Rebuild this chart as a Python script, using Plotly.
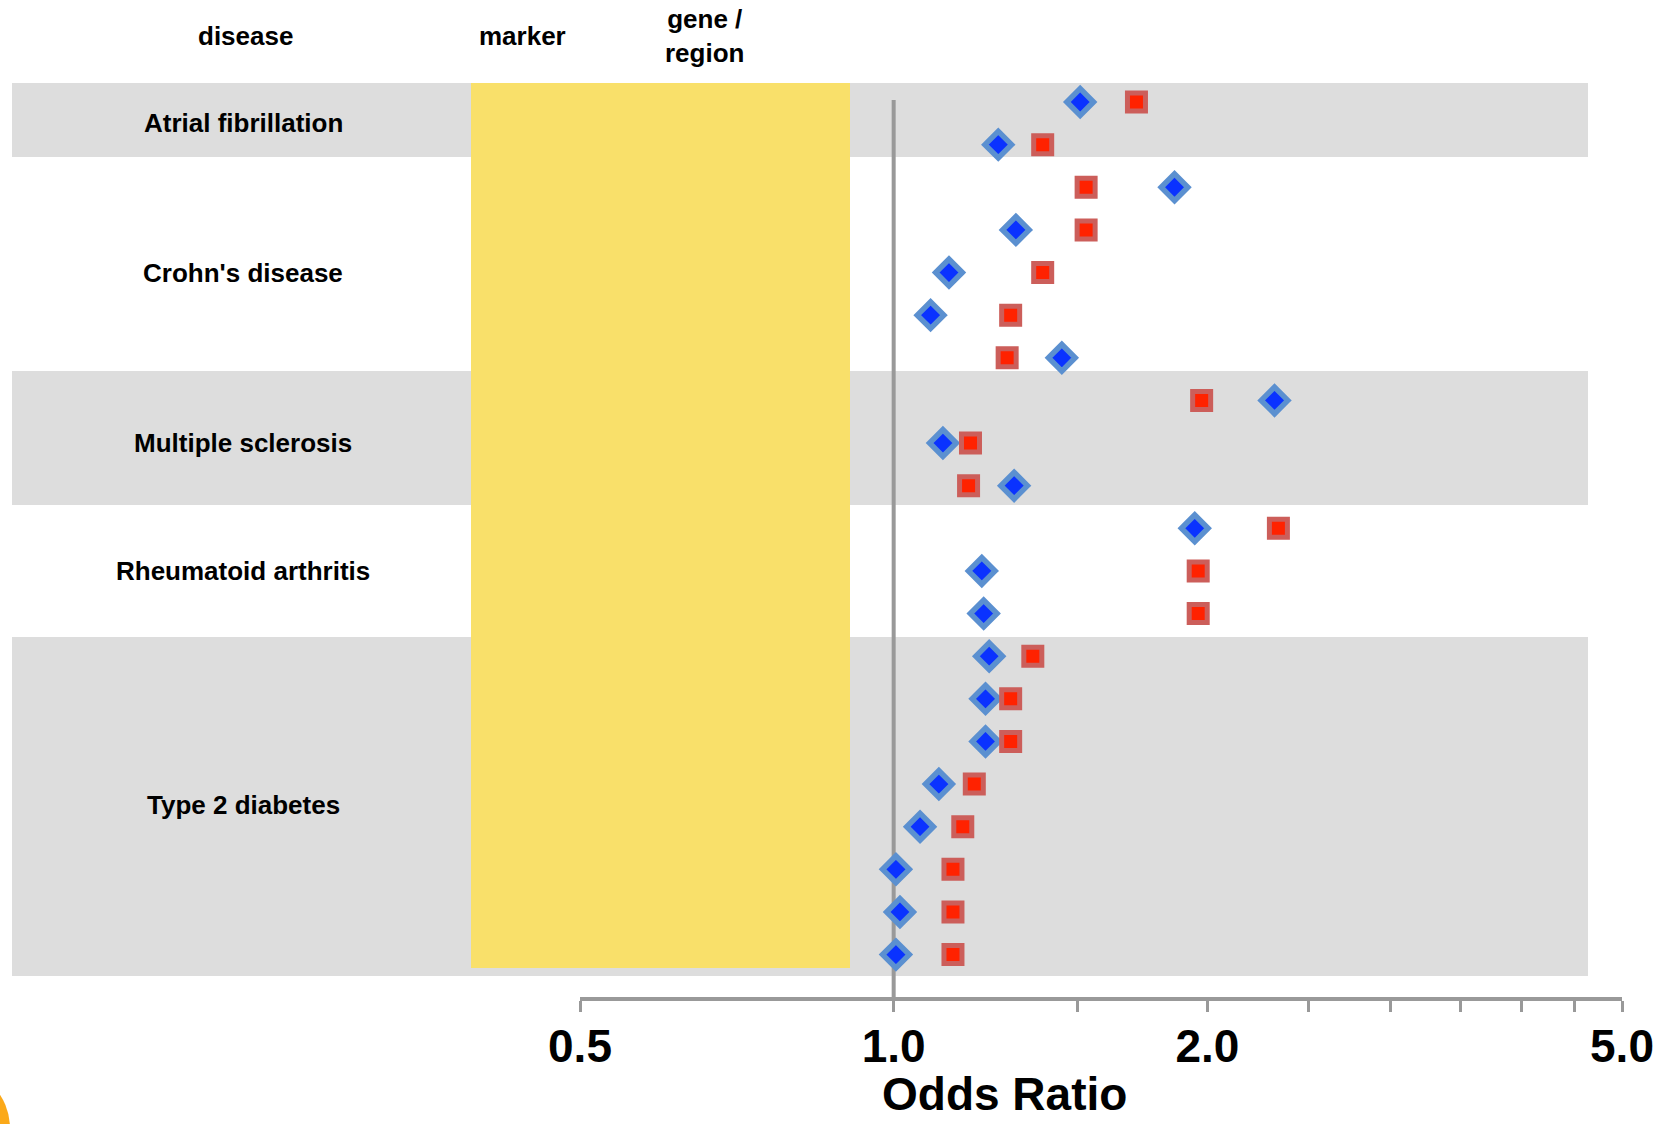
import math
import plotly.graph_objects as go

# ---------------- data ----------------
diseases = ["Atrial fibrillation", "Crohn's disease", "Multiple sclerosis",
            "Rheumatoid arthritis", "Type 2 diabetes"]
markers_per_disease = [2, 5, 3, 3, 8]

# odds ratios, one value per marker row (top to bottom)
or_blue = [1.51, 1.26,
           1.86, 1.31, 1.13, 1.085, 1.45,
           2.32, 1.115, 1.305,
           1.945, 1.215, 1.22,
           1.235, 1.225, 1.225, 1.105, 1.06, 1.005, 1.014, 1.005]
or_red = [1.71, 1.39,
          1.53, 1.53, 1.39, 1.295, 1.285,
          1.975, 1.185, 1.18,
          2.34, 1.96, 1.96,
          1.36, 1.295, 1.295, 1.195, 1.165, 1.14, 1.14, 1.14]

tick_vals = [0.5, 1.0, 1.5, 2.0, 2.5, 3.0, 3.5, 4.0, 4.5, 5.0]
tick_text = ["0.5", "1.0", "", "2.0", "", "", "", "", "", "5.0"]

headers = ["disease", "marker", "gene /<br>region"]

# ---------------- layout helpers ----------------
W, H = 1667, 1124
FONT = "Liberation Sans, Arial, sans-serif"
row_top_px = 102.0
row_step_px = 42.63


def px_to_row(py):
    return (py - row_top_px) / row_step_px


def px_x(p):
    return p / W


def px_y(p):
    return 1 - p / H


rows = list(range(len(or_blue)))

# band edges in row units (group boundaries)
band_edges = [px_to_row(p) for p in (83, 157, 371, 505, 637, 976)]

# label centres: middle row of each disease group
label_rows = []
start = 0
for n in markers_per_disease:
    label_rows.append(start + (n - 1) / 2)
    start += n

fig = go.Figure()

fig.add_trace(go.Scatter(
    x=or_blue, y=rows, mode="markers", name="blue",
    marker=dict(symbol="diamond", size=20.5, color="#0a32ff",
                line=dict(color="#5b90d0", width=5.5)),
    hoverinfo="x"))
fig.add_trace(go.Scatter(
    x=or_red, y=rows, mode="markers", name="red",
    marker=dict(symbol="square", size=18, color="#ff2200",
                line=dict(color="#cc5e5a", width=5)),
    hoverinfo="x"))

shapes = []
# alternating grey bands
for i in range(len(diseases)):
    if i % 2 == 0:
        shapes.append(dict(type="rect", xref="paper", yref="y", layer="below",
                           x0=px_x(12), x1=px_x(1588),
                           y0=band_edges[i], y1=band_edges[i + 1],
                           fillcolor="#dddddd", line=dict(width=0)))
# yellow column
shapes.append(dict(type="rect", xref="paper", yref="y", layer="below",
                   x0=px_x(471), x1=px_x(850),
                   y0=px_to_row(83), y1=px_to_row(968),
                   fillcolor="#f9e06a", line=dict(width=0)))
# reference line at OR = 1
shapes.append(dict(type="line", xref="x", yref="y", layer="below",
                   x0=1.0, x1=1.0, y0=px_to_row(100), y1=px_to_row(999),
                   line=dict(color="#999999", width=4)))
# orange corner artefact
shapes.append(dict(type="circle", xref="paper", yref="paper", layer="above",
                   x0=px_x(-110), x1=px_x(10), y0=px_y(1188), y1=px_y(1068),
                   fillcolor="#fba919", line=dict(width=0)))

annotations = []
for name, yc in zip(diseases, label_rows):
    annotations.append(dict(text="<b>%s</b>" % name, xref="paper", yref="y",
                            x=px_x(243), y=yc, showarrow=False,
                            xanchor="center", yanchor="middle",
                            font=dict(family=FONT, size=26, color="black")))
header_x = [245, 522, 704]
header_y = [36, 36, 36]
for t, hx, hy in zip(headers, header_x, header_y):
    annotations.append(dict(text="<b>%s</b>" % t, xref="paper", yref="paper",
                            x=px_x(hx), y=px_y(hy), showarrow=False,
                            xanchor="center", yanchor="middle",
                            font=dict(family=FONT, size=26, color="black")))
annotations.append(dict(text="<b>Odds Ratio</b>", xref="paper", yref="paper",
                        x=px_x(1005), y=px_y(1094), showarrow=False,
                        xanchor="center", yanchor="middle", borderpad=0,
                        font=dict(family=FONT, size=46, color="black")))

fig.update_layout(
    width=W, height=H,
    margin=dict(l=0, r=0, t=0, b=0, autoexpand=False),
    paper_bgcolor="white", plot_bgcolor="rgba(0,0,0,0)",
    showlegend=False,
    shapes=shapes, annotations=annotations,
    xaxis=dict(type="log", domain=[px_x(580), px_x(1622)],
               range=[math.log10(0.5), math.log10(5.0)],
               anchor="free", position=px_y(999), automargin=False,
               showgrid=False, zeroline=False,
               showline=True, linecolor="#999999", linewidth=4,
               ticks="outside", ticklen=11, tickwidth=3, tickcolor="#999999",
               tickmode="array", tickvals=tick_vals, ticktext=tick_text,
               ticklabelstandoff=-5,
               tickfont=dict(family=FONT, size=46, color="black", weight="bold")),
    yaxis=dict(visible=False, domain=[0, 1], automargin=False,
               range=[px_to_row(H), px_to_row(0)]),
)

fig.write_html("out.html")
